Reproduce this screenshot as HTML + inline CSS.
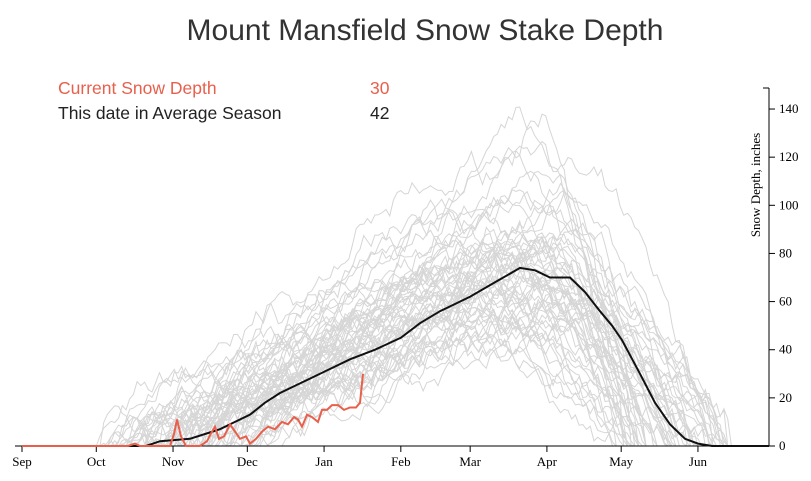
<!DOCTYPE html>
<html><head><meta charset="utf-8"><style>
body{margin:0;background:#fff;width:811px;height:481px;overflow:hidden}
svg{display:block}
</style></head><body>
<svg id="s" width="811" height="481" xmlns="http://www.w3.org/2000/svg">
<text x="425" y="40" text-anchor="middle" font-family="Liberation Sans, sans-serif" font-size="30" fill="#333">Mount Mansfield Snow Stake Depth</text>
<text x="58" y="94" font-family="Liberation Sans, sans-serif" font-size="17.5" fill="#e8604c">Current Snow Depth</text>
<text x="370" y="94" font-family="Liberation Sans, sans-serif" font-size="17.5" fill="#e8604c">30</text>
<text x="58" y="119" font-family="Liberation Sans, sans-serif" font-size="17.5" fill="#222">This date in Average Season</text>
<text x="370" y="119" font-family="Liberation Sans, sans-serif" font-size="17.5" fill="#222">42</text>
<g id="gray" fill="none" stroke="#d6d6d6" stroke-width="1"></g>
<g id="axes" font-family="Liberation Serif, serif" font-size="13" fill="#000"></g>
<text transform="translate(760,185) rotate(-90)" text-anchor="middle" font-family="Liberation Serif, serif" font-size="13">Snow Depth, inches</text>
<path id="avg" fill="none" stroke="#111" stroke-width="2"/>
<path id="cur" fill="none" stroke="#e8604c" stroke-width="2"/>
</svg>
<script>
var X0=22,PD=2.476,Y0=446,PY=48.14/20;
function px(d){return X0+d*PD} function py(v){return Y0-v*PY}
var seed=7;function r(){seed=(seed*16807)%2147483647;return seed/2147483647}
var g=document.getElementById('gray'),h='';
for(var k=0;k<60;k++){
 var start=30+r()*60,end=238+r()*48,peakD=Math.min(165+r()*60,end-25),peak=50+r()*45;
 if(k%8==0){peak=95+r()*50;peakD=Math.min(195+r()*30,end-25)}
 var d='',n1=0,n2=0;
 for(var t=30;t<=300;t+=1.5){
  var val=0;
  if(t>start&&t<peakD){var f=(t-start)/(peakD-start);val=peak*Math.pow(f,0.9)}
  else if(t>=peakD&&t<end){var f=(t-peakD)/(end-peakD);val=peak*(1-f*f*0.4-f*0.6)}
  n1=n1*0.85+(r()-0.5)*6;n2=n2*0.97+(r()-0.5)*2;
  if(val>0){val+=n1+n2*3;if(val<0)val=0}
  d+=(d?'L':'M')+px(t).toFixed(1)+','+py(val).toFixed(1);
 }
 h+='<path d="'+d+'"/>';
}
g.innerHTML=h;
function pts(a){var d='';for(var i=0;i<a.length;i++)d+=(i?'L':'M')+a[i][0]+','+py(a[i][1]).toFixed(1);return d}
document.getElementById('avg').setAttribute('d',pts([[22,0],[146,0],[160,2],[175,2.5],[190,3],[205,5],[220,7],[235,10],[250,13],[265,18],[280,22],[300,26],[325,31],[350,36],[375,40],[401,45],[420,51],[440,56],[470,62],[495,68],[520,74],[535,73],[550,70],[570,70],[585,64],[600,56],[612,50],[622,44],[640,30],[655,18],[670,9],[685,3],[698,1],[712,0],[769,0]]));
document.getElementById('cur').setAttribute('d',pts([[22,0],[128,0],[135,1],[140,0],[170,0],[174,5],[177,11],[181,4],[186,0],[200,0],[207,2],[212,6],[215,8],[219,3],[224,4],[230,9],[235,6],[240,3],[246,4],[250,1],[256,3],[262,6],[268,8],[275,7],[282,10],[288,9],[294,12],[298,11],[302,8],[307,13],[312,12],[318,10],[322,15],[327,15],[332,17],[338,17],[344,15],[350,16],[356,16],[360,18],[363,30]]));
var a=document.getElementById('axes'),s='<line x1="15" y1="446" x2="769" y2="446" stroke="#000"/><line x1="769" y1="88" x2="769" y2="446" stroke="#000"/><line x1="769" y1="88" x2="763" y2="88" stroke="#000"/>';
var m=['Sep','Oct','Nov','Dec','Jan','Feb','Mar','Apr','May','Jun'],dd=[0,30,61,91,122,153,181,212,242,273];
for(var i=0;i<m.length;i++){var x=px(dd[i]);s+='<line x1="'+x+'" y1="446" x2="'+x+'" y2="452" stroke="#000"/><text x="'+x+'" y="466" text-anchor="middle">'+m[i]+'</text>'}
for(var v=0;v<=140;v+=20){var y=py(v);s+='<line x1="769" y1="'+y+'" x2="775" y2="'+y+'" stroke="#000"/><text x="779" y="'+(y+4)+'">'+v+'</text>'}
a.innerHTML=s;
</script>
</body></html>
